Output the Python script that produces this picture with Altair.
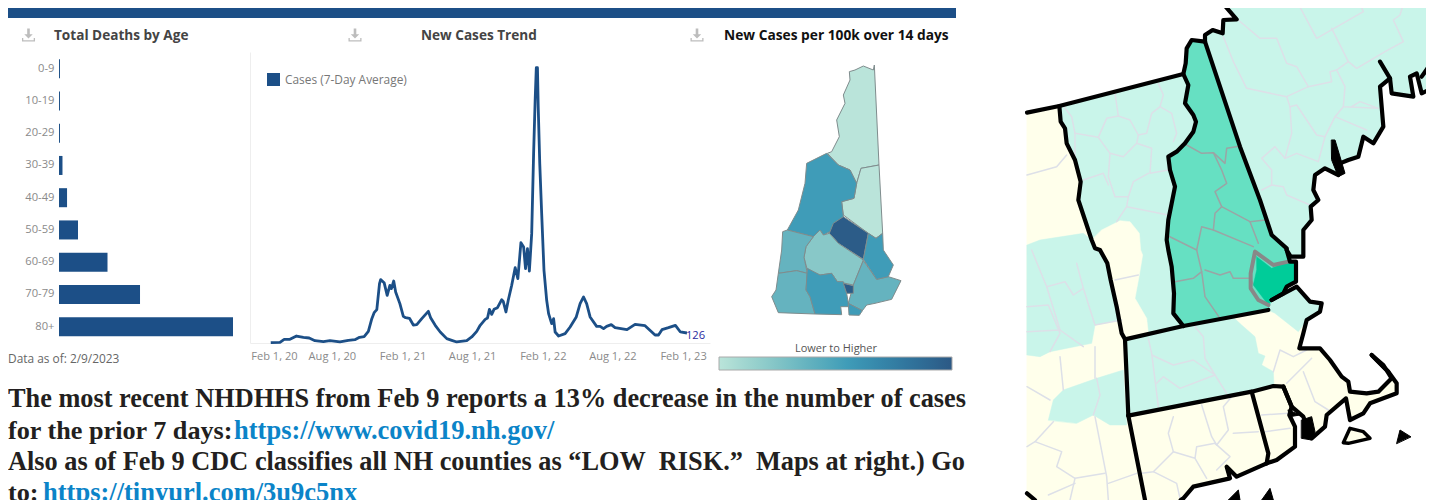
import altair as alt
import pandas as pd

# ---------- values ----------
AGE_GROUPS = ["0-9", "10-19", "20-29", "30-39", "40-49", "50-59", "60-69", "70-79", "80+"]
DEATHS = [9, 9, 9, 32, 74, 175, 446, 745, 1600]

TREND_DAYS = [23, 47, 58, 73, 90, 108, 123, 138, 160, 177, 203, 225, 242, 254, 266, 277, 286, 292, 299, 306, 309, 318,
              326, 333, 337, 343, 348, 359, 368, 374, 384, 394, 403, 416, 433, 439, 451, 464, 481, 494, 507, 533, 546,
              559, 568, 581, 587, 592, 598, 604, 613, 624, 628, 635, 641, 650, 659, 666, 674, 681, 686, 691, 696, 702,
              707, 711, 714, 717, 719, 723, 728, 734, 741, 746, 754, 759, 763, 772, 789, 802, 818, 828, 837, 845, 854,
              871, 880, 889, 897, 909, 919, 950, 971, 997, 1023, 1032, 1041, 1058, 1076, 1089, 1106]
TREND_CASES = [4, 8, 46, 46, 88, 71, 63, 29, 17, 29, 13, 34, 42, 71, 80, 147, 307, 382, 420, 748, 798, 760,
               601, 727, 685, 781, 643, 496, 336, 319, 311, 227, 231, 307, 399, 319, 223, 139, 55, 34, 13, 29, 76,
               147, 223, 298, 315, 424, 361, 424, 445, 546, 525, 391, 538, 727, 949, 811, 1264, 1210, 937, 1189, 907, 1378,
               2386, 3058, 3469, 3469, 2974, 2260, 1630, 916, 538, 370, 244, 307, 139, 88, 118, 202, 328, 496, 580, 496, 328,
               210, 210, 181, 210, 231, 193, 168, 235, 218, 101, 101, 168, 193, 223, 139, 126]

PANEL_TITLES = ["Total Deaths by Age", "New Cases Trend", "New Cases per 100k over 14 days"]
LEGEND_LABEL = "Cases (7-Day Average)"
DATA_AS_OF = "Data as of: 2/9/2023"
LAST_VALUE = "126"
TEXT_LINE_1 = "The most recent NHDHHS from Feb 9 reports a 13% decrease in the number of cases"
TEXT_LINE_2 = "for the prior 7 days:"
LINK_1 = "https://www.covid19.nh.gov/"
TEXT_LINE_3 = "Also as of Feb 9 CDC classifies all NH counties as \u201cLOW\u00a0\u00a0RISK.\u201d\u00a0\u00a0Maps at right.) Go"
TEXT_LINE_4 = "to:"
LINK_2 = "https://tinyurl.com/3u9c5nx"

# NH county map: relative rate and outline (map units)
COUNTIES = {
    "Coos": (0, [(523,135),(520,150),(490,138),(465,150),(448,155),(450,180),(430,225),(435,250),(410,300),(418,350),(395,395),(382,400),(415,435),(450,450),(470,490),(483,445),(537,435)]),
    "Carroll": (0, [(537,435),(483,445),(470,490),(462,535),(425,545),(430,585),(505,640),(528,655),(548,640)]),
    "Grafton": (55, [(380,400),(320,430),(315,490),(295,570),(262,630),(340,650),(360,630),(370,645),(400,630),(430,590),(425,545),(462,535),(470,490),(450,450),(415,435)]),
    "Belknap": (98, [(430,590),(400,610),(388,640),(415,670),(490,718),(505,640)]),
    "Merrimack": (22, [(360,630),(340,650),(318,680),(312,712),(322,750),(360,765),(395,760),(412,785),(460,795),(490,720),(415,670),(388,640),(370,645)]),
    "Sullivan": (38, [(262,630),(248,635),(245,690),(235,760),(290,752),(322,760),(312,712),(318,680),(340,650)]),
    "Cheshire": (38, [(235,760),(228,810),(215,830),(235,878),(345,882),(330,830),(318,810),(322,760),(290,752)]),
    "Hillsborough": (55, [(322,745),(318,810),(330,830),(345,882),(425,884),(422,860),(445,860),(445,850),(440,820),(430,785),(412,785),(395,760),(360,765)]),
    "Rockingham": (38, [(490,722),(460,795),(445,850),(487,872),(500,855),(525,850),(575,838),(603,782),(565,770),(530,778)]),
    "Strafford": (55, [(505,640),(490,718),(530,778),(565,770),(580,735),(550,690),(548,640),(528,655)]),
    "Manchester": (98, [(430,790),(460,797),(460,820),(440,820)]),
    "Nashua": (55, [(445,850),(487,872),(478,886),(447,885)]),
}

def low(points):
    return [(x, y + 750) for x, y in points]

# CDC regional map outlines (map units)
CANADA_LINE = [(21,338),(118,318),(490,222)]
NH_WEST = [(555,125),(515,120),(500,145),(497,190),(490,222),(505,255),(495,310),(520,345),(528,365),(520,395),(495,430),(470,455),(445,470),(450,510),(465,560),(455,610),(445,660),(440,720),(445,750)] + low([(455,50),(462,130),(460,190),(490,228)])
NH_SOUTH = low([(745,180)])
NH_COAST = low([(755,150),(790,130),(800,110),(828,95),(828,35),(810,35),(800,0)])
NH_EAST = [(755,705),(720,600),(660,440),(555,125)]
VT_WEST = [(118,318),(122,365),(135,385),(140,430),(165,480),(182,545),(175,600),(195,660),(215,720),(225,745),(240,750),(262,790),(272,840),(290,920),(305,1000),(315,1018)]
NY_CT = low([(325,497),(375,750)])
ME_NORTH = [(610,12),(650,58),(610,60),(608,100),(578,90),(555,105),(555,125)]
ME_COAST = [(800,750),(812,770),(850,770),(850,690),(875,660),(872,620),(895,600),(880,570),(885,525),(915,505),(955,525),(960,490),(985,480),(1015,470),(1030,410),(1060,430),(1090,380),(1080,260),(1110,235),(1080,185)]
ME_EAST = [(1110,235),(1115,280),(1180,290),(1170,230),(1190,220),(1205,280),(1226,270)]
ME_EAST2 = [(1205,230),(1226,200)]
MA_COAST = low([(755,150),(830,110),(870,155),(905,160),(900,185),(860,210),(850,250),(838,295),(880,295),(900,295),(930,330),(965,380),(985,395),(990,425),(1040,430),(1075,425),(1115,385),(1090,345),(1055,315),(1105,365),(1130,400),(1130,430),(1050,460),(1030,490),(990,510),(978,445),(920,495),(915,530),(875,565),(850,500),(815,470),(790,410)])
MA_SOUTH = low([(790,410),(760,408),(695,425),(325,497)])
CT_EAST = low([(695,425),(745,610),(740,640)])
CT_COAST = low([(740,640),(650,680),(620,650),(630,685),(520,710),(490,745),(482,750)])
RI_COAST = low([(790,410),(815,470),(808,495),(825,530),(825,590),(770,630),(740,640)])

NY_FILL = [(21,338),(118,318)] + VT_WEST[1:] + NY_CT + [(21,1500)]
VT_FILL = [(118,318),(490,222)] + NH_WEST[5:] + [(315,1018)] + VT_WEST[::-1]
NH_FILL = NH_WEST + NH_SOUTH + NH_COAST + NH_EAST
ME_FILL = ME_NORTH + NH_EAST[::-1] + ME_COAST[:-2] + [(1110,235),(1115,280),(1180,290),(1170,230),(1190,220),(1205,280),(1226,270),(1226,12)]
MA_FILL = [(315,1018),(490,978)] + NH_SOUTH + MA_COAST + MA_SOUTH
CT_FILL = low([(325,497),(695,425)]) + CT_EAST[1:] + CT_COAST + low([(375,750)])
RI_FILL = low([(695,425),(760,408)]) + RI_COAST + CT_EAST[::-1][1:]
MV_ISLAND = low([(970,578),(990,535),(1030,545),(1050,565),(985,580)])

YELLOW_PATCH = [(245,690),(300,662),(330,665),(358,700),(362,750),(368,765),(358,825),(345,895),(380,955),(385,1000),(315,1018),(305,1000),(290,920),(272,840),(262,790),(240,750),(225,745),(215,720)]
NY_TEAL_A = [(21,735),(60,720),(190,700),(215,720),(225,745),(240,750),(262,790),(272,840),(290,920),(305,960)] + low([(225,225),(215,280),(90,305),(60,320),(21,315)])
NY_TEAL_B = low([(85,510),(100,450),(130,420),(230,385),(310,360),(320,525),(270,525),(220,495),(170,520)])
MA_TEAL = [(315,1018),(490,978)] + low([(640,202),(665,225),(705,260),(715,310),(735,318),(725,345),(760,365),(762,408),(695,425),(325,497)])
ESSEX_TEAL = low([(745,180),(755,150),(830,110),(870,155),(905,160),(900,185),(860,210),(835,245),(765,190)])
ROCKINGHAM = low([(710,20),(755,55),(800,35),(828,40),(828,95),(800,110),(790,130),(755,150),(745,165),(715,125),(700,105),(710,60)])
ROCKINGHAM_EDGE = low([(805,35),(760,45),(705,5),(692,70),(692,115),(715,150),(745,165)])

BLACK_BLOBS = [
    [(935,420),(945,420),(975,520),(955,530),(935,480)],
    low([(845,510),(875,500),(885,545),(875,570),(845,565)]),
    low([(805,480),(840,495),(810,500)]),
    low([(1130,580),(1140,540),(1172,560)]),
    low([(625,750),(655,720),(660,750)]),
    low([(725,750),(750,715),(760,750)]),
]
BLACK_LINES = [CANADA_LINE, NH_WEST, low([(315,268),(490,228),(745,180)]), NH_COAST, [(800,745)] + NH_EAST, VT_WEST, NY_CT,
               [(315,1018),(325,1247)], ME_NORTH, ME_COAST, ME_EAST, ME_EAST2, MA_COAST, MA_SOUTH, CT_EAST, CT_COAST, RI_COAST,
               low([(21,730),(45,750)]), low([(1055,315),(1105,365)])]

FAINT_LINES = [
    [(130,318),(155,350),(165,400),(235,412),(260,355),(295,348),(285,280)],
    [(295,348),(330,360),(355,405),(380,400),(395,340),(420,320),(430,285),(415,250)],
    [(420,320),(455,340),(470,400),(460,425)],
    [(235,412),(270,460),(310,470),(350,430),(355,405)],
    [(350,430),(395,445),(390,520),(445,510)],
    [(165,400),(165,480)],
    [(270,460),(265,530),(285,590),(325,590),(340,545),(385,520)],
    [(190,540),(250,520),(265,555)],
    [(325,590),(320,620),(445,645)],
    [(320,620),(290,665)],
    [(655,60),(720,115),(770,115),(800,190),(830,200),(865,260),(800,290),(680,265),(640,185),(610,110)],
    [(835,12),(890,115),(1030,35),(1020,12)],
    [(935,85),(985,185),(1010,205),(1095,155),(1150,125),(1120,60),(1140,45),(1150,12)],
    [(985,185),(950,210),(930,215),(935,245),(865,260)],
    [(950,210),(975,260),(970,320),(1075,325),(1020,305),(995,320)],
    [(970,320),(945,350),(1040,390)],
    [(810,320),(800,290)],
    [(810,320),(830,315),(890,405),(915,410),(945,350)],
    [(810,320),(815,400),(795,475),(765,440),(725,475),(755,510),(755,555),(725,570)],
    [(755,555),(790,560),(800,585),(870,615)],
    [(795,475),(830,460),(895,485),(915,410)],
    [(21,525),(110,500),(140,465)],
    low([(21,170),(85,165),(120,250),(90,305)]),
    low([(21,245),(120,240),(190,290)]),
    low([(80,110),(135,95),(160,135),(190,115),(225,225),(305,210)]),
    low([(35,0),(80,110),(120,240)]),
    low([(170,40),(190,115)]),
    low([(130,420),(120,320)]),
    low([(230,385),(240,435),(220,495)]),
    low([(21,410),(90,450)]),
    low([(225,290),(225,385)]),
    low([(100,515),(45,575),(125,605),(110,650),(165,685),(150,750)]),
    low([(225,500),(260,680),(265,750)]),
    low([(165,685),(255,670)]),
    low([(45,575),(21,590)]),
    low([(265,700),(350,670)]),
    low([(85,735),(165,700)]),
    low([(365,670),(400,665),(460,605),(445,550),(460,500)]),
    low([(545,465),(575,560),(590,585),(625,540),(610,470),(635,440)]),
    low([(460,605),(525,625),(530,590),(585,580),(630,620),(590,660)]),
    low([(525,625),(560,685)]),
    low([(640,550),(715,545)]),
    low([(400,665),(470,700),(480,745)]),
    low([(725,495),(805,490)]),
    low([(735,545),(810,535)]),
    low([(385,265),(395,310),(415,470)]),
    low([(410,400),(430,380),(480,415),(585,375),(620,430)]),
    low([(395,315),(460,345),(520,330),(585,375),(555,325),(550,260),(525,230)]),
    low([(760,365),(780,300),(820,320),(860,300)]),
    low([(875,325),(800,400)]),
    low([(850,365),(885,455),(925,480)]),
    low([(355,75),(285,90)]),
]
NH_LINES = [
    [(500,435),(545,460),(580,458),(615,490),(620,445),(662,438)],
    [(580,458),(605,510),(620,550),(585,575),(605,620),(690,665),(735,660)],
    [(605,620),(585,640),(580,690),(545,680),(530,750),(445,708)],
    [(580,690),(700,740)],
    [(690,665),(715,730)],
    low([(530,0),(545,65),(520,85),(465,95)]),
    low([(545,65),(555,140),(600,205)]),
    low([(555,60),(600,75),(630,65),(640,85),(690,85),(705,110)]),
]

# ---------- helpers ----------
# both maps share one projection, so each is placed by its own origin in map units
SMALL_MAP_ORIGIN = (2076, 60)
BIG_MAP_ORIGIN = (3036, 0)

def ring(points, origin=BIG_MAP_ORIGIN):
    pts = [[x + origin[0], y + origin[1]] for x, y in points]
    if pts[0] != pts[-1]:
        pts.append(pts[0])
    return pts

def polygons(rings):
    return [{"type": "Feature", "properties": {}, "geometry": {"type": "Polygon", "coordinates": [ring(r)]}} for r in rings]

def lines(paths):
    return [{"type": "Feature", "properties": {},
             "geometry": {"type": "LineString", "coordinates": [[x + BIG_MAP_ORIGIN[0], y + BIG_MAP_ORIGIN[1]] for x, y in path]}}
            for path in paths]

SANS = "Open Sans"
NAVY = "#1C4F87"
PROJECTION = dict(type="identity", scale=1 / 3, translate=[0, -8])

def big_map(features, **mark):
    return alt.Chart(alt.Data(values=features)).mark_geoshape(strokeJoin="round", strokeCap="round", **mark).project(**PROJECTION)

def label(text, x, y, **mark):
    return alt.Chart(pd.DataFrame({"t": [text]})).mark_text(align=mark.pop("align", "left"), baseline=mark.pop("baseline", "alphabetic"), **mark).encode(
        x=alt.value(x), y=alt.value(y), text="t:N")

layers = []

# top band
layers.append(alt.Chart(pd.DataFrame({"k": [1]})).mark_rect(color=NAVY).encode(
    x=alt.value(0), x2=alt.value(948), y=alt.value(-4), y2=alt.value(10)))

# download icons
ICON = "M-0.2,-1H0.2V-0.1H0.65L0,0.55L-0.65,-0.1H-0.2ZM-1,0.45H-0.8V0.8H0.8V0.45H1V1H-1Z"
layers.append(alt.Chart(pd.DataFrame({"ix": [0, 1, 2], "px": [20.5, 347, 689]})).mark_point(
    shape=ICON, filled=True, size=170, color="#BDBDBD", opacity=1).encode(
    x=alt.X("px:Q", scale=alt.Scale(domain=[0, 1418], range=[0, 1418]), axis=None), y=alt.value(27)))

# panel titles
layers.append(label(PANEL_TITLES[0], 46, 32, font=SANS, fontSize=13.6, fontWeight="bold", color="#444444"))
layers.append(label(PANEL_TITLES[1], 413, 32, font=SANS, fontSize=13.6, fontWeight="bold", color="#444444"))
layers.append(label(PANEL_TITLES[2], 716, 32, font=SANS, fontSize=13.75, fontWeight="bold", color="#111111"))

# deaths by age bars
bars_df = pd.DataFrame({"age": AGE_GROUPS, "deaths": DEATHS})
layers.append(alt.Chart(bars_df).mark_bar(color=NAVY).encode(
    x=alt.X("deaths:Q", scale=alt.Scale(domain=[0, 1600], range=[51, 225]), axis=None),
    y=alt.Y("age:N", sort=AGE_GROUPS,
            scale=alt.Scale(domain=AGE_GROUPS, range=[44.6, 334.8], paddingInner=0.41, paddingOuter=0.205),
            axis=alt.Axis(title=None, orient="left", offset=-51, domain=False, ticks=False, labelPadding=5,
                          labelColor="#8A8A8A", labelFont=SANS, labelFontSize=11.2, labelOverlap=False))))

# trend line
dates = [(pd.Timestamp("2020-02-01") + pd.Timedelta(days=d)).strftime("%Y-%m-%dT00:00:00") for d in TREND_DAYS]
trend_df = pd.DataFrame({"date": dates, "cases": TREND_CASES})
x_dom = [alt.DateTime(year=2020, month=1, date=1), alt.DateTime(year=2023, month=4, date=12)]
x_scale = alt.Scale(domain=x_dom, range=[242, 702])
y_scale = alt.Scale(domain=[0, 3667], range=[335, 44])
tick_dates = [alt.DateTime(year=y, month=m, date=1) for y, m in
              [(2020, 2), (2020, 8), (2021, 2), (2021, 8), (2022, 2), (2022, 8), (2023, 2)]]
layers.append(alt.Chart(trend_df).mark_line(color=NAVY, strokeWidth=2.8, strokeJoin="round").encode(
    x=alt.X("date:T", scale=x_scale,
            axis=alt.Axis(title=None, orient="bottom", offset=-157, values=tick_dates, format="%b %-d, %y", ticks=False,
                          grid=False, domainColor="#EEEEEE", labelColor="#8A8A8A", labelFont=SANS, labelFontSize=11.1,
                          labelPadding=7, labelOverlap=False, labelBound=False,
                          labelOffset={"condition": {"test": "datum.value < 1583020800000", "value": 12}, "value": 0})),
    y=alt.Y("cases:Q", scale=y_scale,
            axis=alt.Axis(title=None, orient="left", offset=-242, labels=False, ticks=False, grid=False, domainColor="#EEEEEE"))))
layers.append(alt.Chart(trend_df.tail(1).assign(t=LAST_VALUE)).mark_text(
    align="left", baseline="middle", dx=-1, dy=3, font=SANS, fontSize=11.2, color="#2A2AA0").encode(
    x=alt.X("date:T", scale=x_scale, axis=None), y=alt.Y("cases:Q", scale=y_scale, axis=None), text="t:N"))

# line legend
layers.append(alt.Chart(pd.DataFrame({"k": [1]})).mark_rect(color=NAVY).encode(
    x=alt.value(259), x2=alt.value(272), y=alt.value(65), y2=alt.value(78)))
layers.append(label(LEGEND_LABEL, 277, 76, font=SANS, fontSize=11.9, color="#777777"))
layers.append(label(DATA_AS_OF, 0, 355, font=SANS, fontSize=11.9, color="#666666"))

# NH county choropleth
county_features = [{"type": "Feature", "properties": {"name": n, "rate": r},
                    "geometry": {"type": "Polygon", "coordinates": [ring(pts, SMALL_MAP_ORIGIN)]}} for n, (r, pts) in COUNTIES.items()]
layers.append(alt.Chart(alt.Data(values=county_features)).mark_geoshape(stroke="#7F8C8D", strokeWidth=1).project(**PROJECTION).encode(
    color=alt.Color("properties.rate:Q",
                    scale=alt.Scale(domain=[0, 55, 100], range=["#BAE4DA", "#3F9CB8", "#2C5985"]),
                    legend=alt.Legend(orient="none", legendX=711, legendY=335, direction="horizontal",
                                      title="Lower to Higher", titleAnchor="middle", titleOrient="top",
                                      titleFont=SANS, titleFontSize=11, titleFontWeight="normal", titleColor="#555555",
                                      titlePadding=3, gradientLength=233, gradientThickness=13, labelOpacity=0,
                                      gradientStrokeColor="#AAAAAA", gradientStrokeWidth=1))))

# commentary text
DARK = "#231F20"
LINK = "#0B84C8"
SERIF = "Liberation Serif"
layers.append(label(TEXT_LINE_1, 0, 399, font=SERIF, fontSize=26.3, fontWeight="bold", color=DARK))
layers.append(label(TEXT_LINE_2, 0, 431, font=SERIF, fontSize=26.2, fontWeight="bold", color=DARK))
layers.append(label(LINK_1, 226, 431, font=SERIF, fontSize=26.5, fontWeight="bold", color=LINK))
layers.append(label(TEXT_LINE_3, 0, 462, font=SERIF, fontSize=26.3, fontWeight="bold", color=DARK))
layers.append(label(TEXT_LINE_4, 0, 493, font=SERIF, fontSize=26.2, fontWeight="bold", color=DARK))
layers.append(label(LINK_2, 35, 493, font=SERIF, fontSize=26.5, fontWeight="bold", color=LINK))

# CDC map
layers.append(big_map(polygons([NY_FILL, MA_FILL, CT_FILL, RI_FILL]), fill="#FFFFEB", stroke="#FFFFEB", strokeWidth=0.5))
layers.append(big_map(polygons([VT_FILL, ME_FILL, NY_TEAL_A, NY_TEAL_B, MA_TEAL, ESSEX_TEAL]), fill="#C9F5EA", stroke="#C9F5EA", strokeWidth=0.5))
layers.append(big_map(polygons([YELLOW_PATCH]), fill="#FFFFEB", stroke="#FFFFEB", strokeWidth=0.5))
layers.append(big_map(polygons([NH_FILL]), fill="#66E0C2", stroke="#66E0C2", strokeWidth=0.5))
layers.append(big_map(lines(FAINT_LINES), filled=False, stroke="#DDE0E8", strokeWidth=1.5))
layers.append(big_map(lines(NH_LINES), filled=False, stroke="#9AA5A5", strokeWidth=1.5))
layers.append(big_map(polygons([ROCKINGHAM]), fill="#00CC99", stroke="#00CC99", strokeWidth=0.5))
layers.append(big_map(lines([ROCKINGHAM_EDGE]), filled=False, stroke="#888888", strokeWidth=4))
layers.append(big_map(polygons(BLACK_BLOBS), fill="#000000", stroke="#000000", strokeWidth=1))
layers.append(big_map(lines(BLACK_LINES), filled=False, stroke="#000000", strokeWidth=4.2))
layers.append(big_map(polygons([MV_ISLAND]), fill="#FFFFEB", stroke="#000000", strokeWidth=3.5))

chart = alt.layer(*layers).resolve_scale(x="independent", y="independent", color="independent").properties(
    width=1418, height=492, padding=0, autosize=alt.AutoSizeParams(type="none")
).configure_view(stroke=None)

chart.save("out.html", embed_options={"renderer": "svg", "actions": False})
